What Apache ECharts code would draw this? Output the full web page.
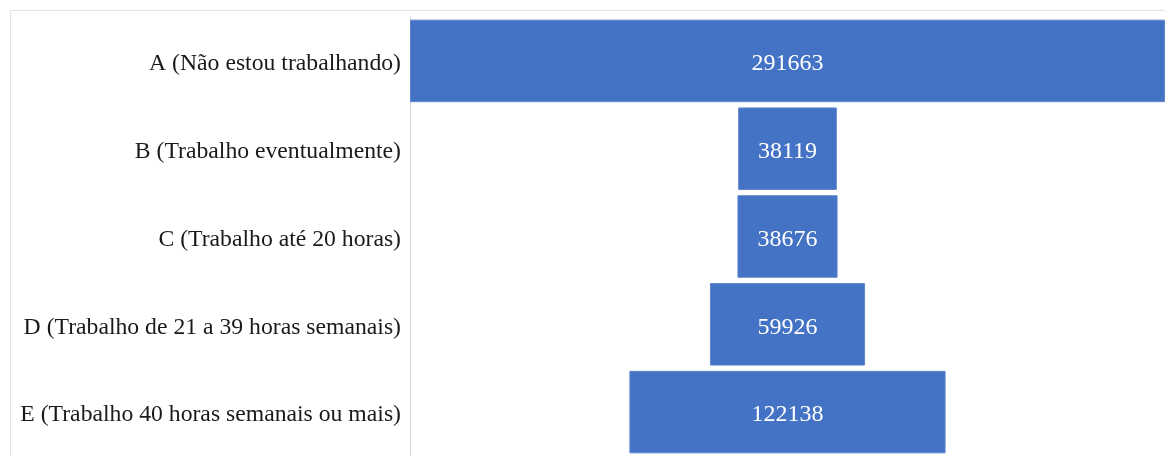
<!DOCTYPE html>
<html>
<head>
<meta charset="utf-8">
<script src="https://cdn.jsdelivr.net/npm/echarts@6/dist/echarts.min.js"></script>
<style>
  html, body { margin: 0; padding: 0; background: #ffffff; }
  #chart { width: 1165px; height: 456px; }
</style>
</head>
<body>
<div id="chart"></div>
<script>
// Funnel of respondents by working situation
const categories = [
  'A (Não estou trabalhando)',
  'B (Trabalho eventualmente)',
  'C (Trabalho até 20 horas)',
  'D (Trabalho de 21 a 39 horas semanais)',
  'E (Trabalho 40 horas semanais ou mais)'
];
const values = [291663, 38119, 38676, 59926, 122138];

const maxValue = Math.max(...values);
// invisible spacer that centres each bar on the widest one
const spacer = values.map(v => (maxValue - v) / 2);

const serif = '"Liberation Serif", "Times New Roman", serif';

const chart = echarts.init(document.getElementById('chart'), null, { renderer: 'canvas' });
chart.setOption({
  animation: false,
  backgroundColor: '#ffffff',
  graphic: [{
    type: 'rect',
    shape: { x: 10.5, y: 10.5, width: 1200, height: 500 },
    style: { fill: 'none', stroke: '#e3e3e3', lineWidth: 1 },
    silent: true
  }],
  grid: { left: 410, top: 17, width: 761, height: 440, containLabel: false },
  xAxis: {
    type: 'value',
    min: 0,
    max: maxValue,
    show: false
  },
  yAxis: {
    type: 'category',
    data: categories,
    inverse: true,
    axisLine: { show: true, lineStyle: { color: '#d9d9d9', width: 1 } },
    axisTick: { show: false },
    axisLabel: {
      margin: 9,
      formatter: v => '{c|' + v + '}',
      rich: {
        c: {
          color: '#1a1a1a',
          fontFamily: serif,
          fontSize: 23.7,
          padding: [6, 0, 0, 0]
        }
      }
    }
  },
  series: [
    {
      type: 'bar',
      stack: 'funnel',
      data: spacer,
      itemStyle: { color: 'transparent' },
      silent: true,
      barCategoryGap: '6%'
    },
    {
      type: 'bar',
      stack: 'funnel',
      data: values,
      barCategoryGap: '6%',
      itemStyle: { color: '#4472C4', borderColor: '#5f86cc', borderWidth: 1 },
      label: {
        show: true,
        position: 'inside',
        offset: [0, 3],
        color: '#ffffff',
        fontFamily: serif,
        fontSize: 24
      }
    }
  ]
});
</script>
</body>
</html>
